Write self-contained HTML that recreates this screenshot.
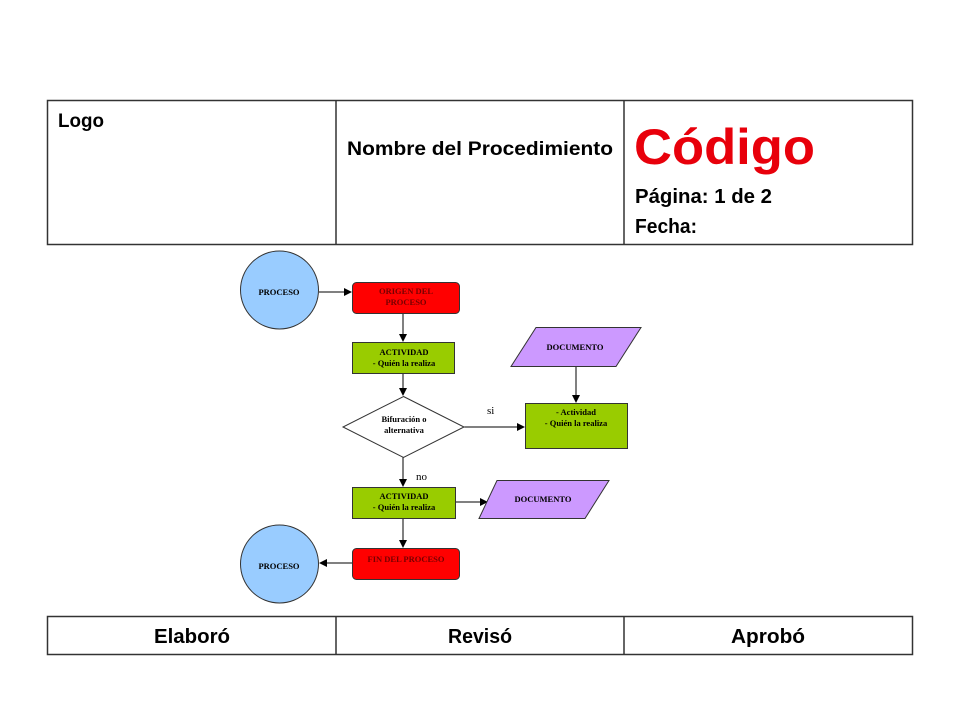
<!DOCTYPE html>
<html><head><meta charset="utf-8"><style>
html,body{margin:0;padding:0;background:#fff;}
svg{display:block;}
.h{font-family:"Liberation Sans",sans-serif;font-weight:bold;}
.s{font-family:"Liberation Serif",serif;font-weight:bold;font-size:8.5px;}
</style></head><body>
<svg width="960" height="720" viewBox="0 0 960 720" xmlns="http://www.w3.org/2000/svg">
<defs><marker id="a" markerWidth="8" markerHeight="8" refX="7" refY="4" orient="auto" markerUnits="userSpaceOnUse"><path d="M0,0 L8,4 L0,8 z" fill="#000"/></marker></defs>
<!-- header table -->
<rect x="47.5" y="100.5" width="865" height="144" fill="none" stroke="#333" stroke-width="1.5"/>
<line x1="336" y1="100" x2="336" y2="244" stroke="#333" stroke-width="1.5"/>
<line x1="624" y1="100" x2="624" y2="244" stroke="#333" stroke-width="1.5"/>
<text class="h" x="58" y="127" font-size="19" textLength="46" lengthAdjust="spacingAndGlyphs">Logo</text>
<text class="h" x="347" y="155" font-size="19" textLength="266" lengthAdjust="spacingAndGlyphs">Nombre del Procedimiento</text>
<text class="h" x="634" y="164" font-size="50" fill="#e8000b" textLength="181" lengthAdjust="spacingAndGlyphs">Código</text>
<text class="h" x="635" y="203" font-size="20" textLength="137" lengthAdjust="spacingAndGlyphs">Página: 1 de 2</text>
<text class="h" x="635" y="233" font-size="20" textLength="62" lengthAdjust="spacingAndGlyphs">Fecha:</text>
<!-- footer table -->
<rect x="47.5" y="616.5" width="865" height="38" fill="none" stroke="#333" stroke-width="1.5"/>
<line x1="336" y1="616" x2="336" y2="655" stroke="#333" stroke-width="1.5"/>
<line x1="624" y1="616" x2="624" y2="655" stroke="#333" stroke-width="1.5"/>
<text class="h" x="192" y="643" font-size="20" text-anchor="middle" textLength="76" lengthAdjust="spacingAndGlyphs">Elaboró</text>
<text class="h" x="480" y="643" font-size="20" text-anchor="middle" textLength="64" lengthAdjust="spacingAndGlyphs">Revisó</text>
<text class="h" x="768" y="643" font-size="20" text-anchor="middle" textLength="74" lengthAdjust="spacingAndGlyphs">Aprobó</text>
<!-- connectors -->
<g stroke="#000" stroke-width="1" fill="none">
<line x1="319" y1="292" x2="351" y2="292" marker-end="url(#a)"/>
<line x1="403" y1="313" x2="403" y2="341" marker-end="url(#a)"/>
<line x1="403" y1="374" x2="403" y2="395" marker-end="url(#a)"/>
<line x1="464" y1="427" x2="524" y2="427" marker-end="url(#a)"/>
<line x1="576" y1="367" x2="576" y2="402" marker-end="url(#a)"/>
<line x1="403" y1="457" x2="403" y2="486" marker-end="url(#a)"/>
<line x1="456" y1="502" x2="487" y2="502" marker-end="url(#a)"/>
<line x1="403" y1="519" x2="403" y2="547" marker-end="url(#a)"/>
<line x1="352" y1="563" x2="320" y2="563" marker-end="url(#a)"/>
</g>
<!-- shapes -->
<circle cx="279.5" cy="290" r="39" fill="#99ccff" stroke="#333"/>
<circle cx="279.5" cy="564" r="39" fill="#99ccff" stroke="#333"/>
<rect x="352.5" y="282.5" width="107" height="31" rx="4" fill="#ff0000" stroke="#333"/>
<rect x="352.5" y="548.5" width="107" height="31" rx="4" fill="#ff0000" stroke="#333"/>
<rect x="352.5" y="342.5" width="102" height="31" fill="#99cc00" stroke="#333"/>
<rect x="352.5" y="487.5" width="103" height="31" fill="#99cc00" stroke="#333"/>
<rect x="525.5" y="403.5" width="102" height="45" fill="#99cc00" stroke="#333"/>
<polygon points="403.5,396.5 464,427 403.5,457.5 343,427" fill="#fff" stroke="#333"/>
<polygon points="536,327.5 641,327.5 616,366.5 511,366.5" fill="#cc99ff" stroke="#333"/>
<polygon points="497,480.5 609,480.5 585,518.5 479,518.5" fill="#cc99ff" stroke="#333"/>
<!-- labels -->
<g class="s" text-anchor="middle" fill="#000">
<text x="279" y="295">PROCESO</text>
<text x="279" y="569">PROCESO</text>
<text x="406" y="294" fill="#700">ORIGEN DEL</text>
<text x="406" y="305" fill="#700">PROCESO</text>
<text x="406" y="562" fill="#700">FIN DEL PROCESO</text>
<text x="404" y="355">ACTIVIDAD</text>
<text x="404" y="366">- Quién la realiza</text>
<text x="404" y="499">ACTIVIDAD</text>
<text x="404" y="510">- Quién la realiza</text>
<text x="576" y="415">- Actividad</text>
<text x="576" y="426">- Quién la realiza</text>
<text x="404" y="422">Bifuración o</text>
<text x="404" y="433">alternativa</text>
<text x="575" y="350">DOCUMENTO</text>
<text x="543" y="502">DOCUMENTO</text>
</g>
<text x="487" y="414" font-family="Liberation Serif,serif" font-size="11">si</text>
<text x="416" y="480" font-family="Liberation Serif,serif" font-size="11">no</text>
</svg>
</body></html>
